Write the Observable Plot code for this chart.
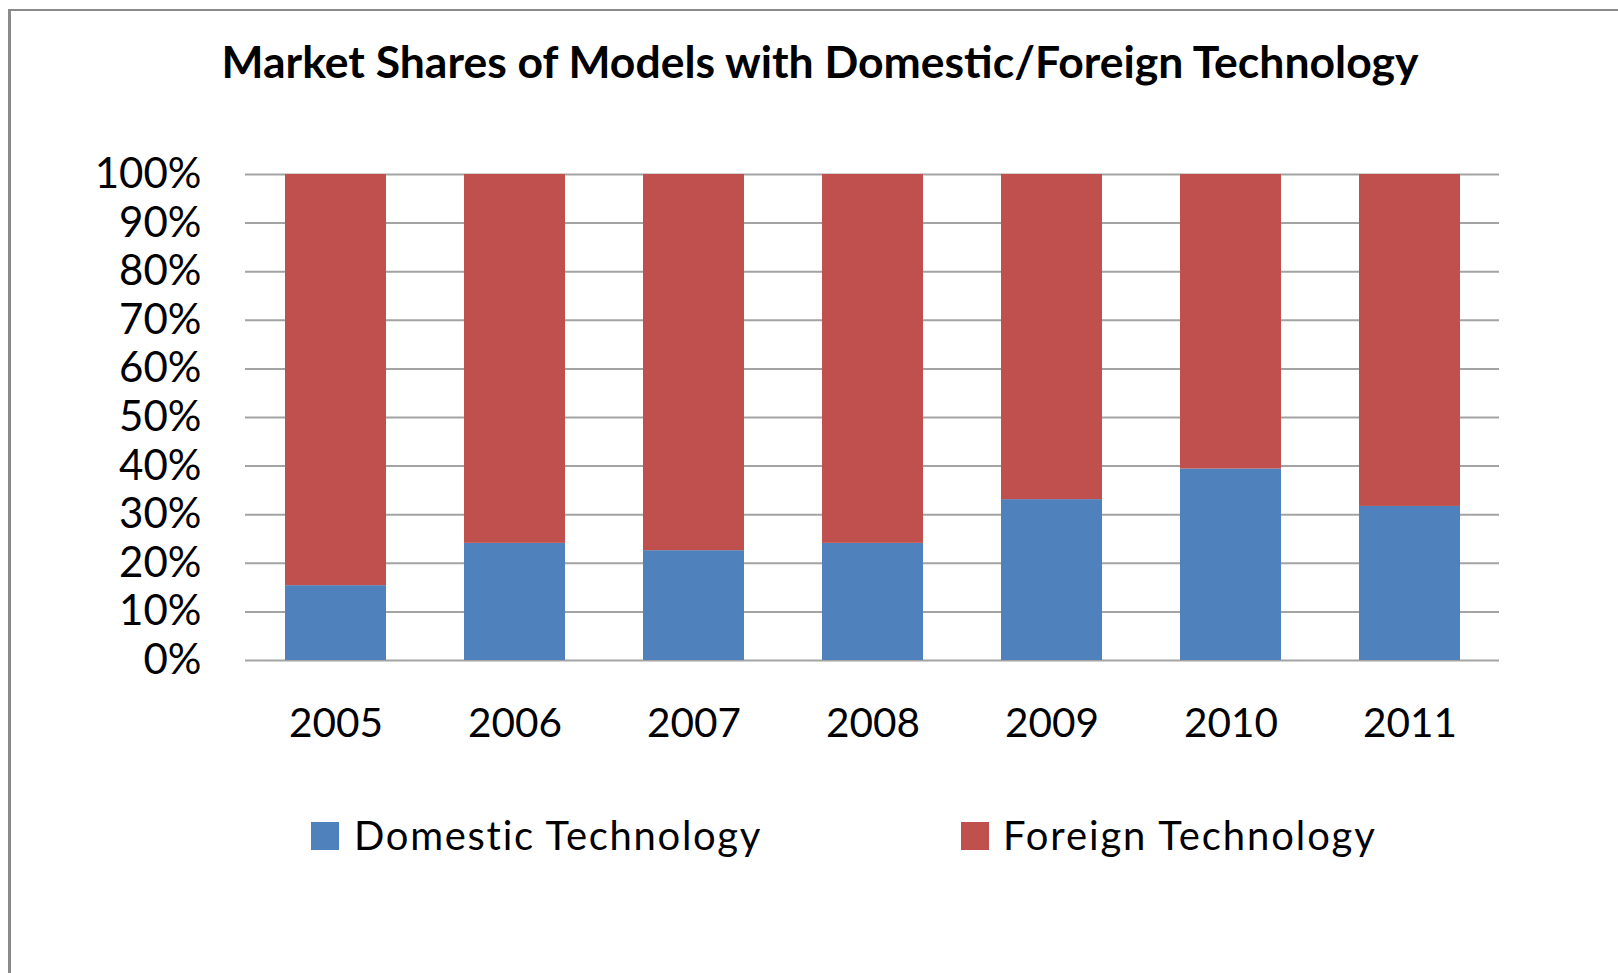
<!DOCTYPE html>
<html>
<head>
<meta charset="utf-8">
<script src="https://cdn.jsdelivr.net/npm/d3@7"></script>
<script src="https://cdn.jsdelivr.net/npm/@observablehq/plot@0.6"></script>
<style>
  html, body { margin: 0; padding: 0; background: #fff; }
  body { width: 1618px; height: 973px; overflow: hidden; position: relative; font-family: Lato, "Open Sans", sans-serif; color: #000; }
  #frame { position: absolute; z-index: 5; pointer-events: none; left: 8px; top: 9px; width: 1700px; height: 1100px; border-top: 2px solid #8a8a8a; border-left: 3px solid #8a8a8a; box-sizing: border-box; }
  #title { position: absolute; left: 22px; width: 1596px; top: 34px; text-align: center; font-weight: bold; font-size: 44.5px; line-height: 1.2; white-space: nowrap; }
  #chart { position: absolute; left: 0; top: 120px; }
  #chart svg { background: transparent !important; }
  #legend { position: absolute; left: 0; top: 0; width: 1618px; height: 973px; pointer-events: none; }
  .sw { position: absolute; width: 28px; height: 28px; }
  .lt { position: absolute; font-family: Lato, "Open Sans", sans-serif; font-size: 40px; line-height: 1.2; white-space: nowrap; }
</style>
</head>
<body>
<div id="frame"></div>
<div id="title">Market Shares of Models with Domestic/Foreign Technology</div>
<div id="chart"></div>
<div id="legend"></div>
<script>
const years = ["2005", "2006", "2007", "2008", "2009", "2010", "2011"];
const domestic = [15.4, 24.1, 22.6, 24.1, 33.1, 39.4, 31.7];
const foreign = [84.6, 75.9, 77.4, 75.9, 66.9, 60.6, 68.3];
const seriesNames = ["Domestic Technology", "Foreign Technology"];
const seriesColors = ["#4F81BD", "#C0504D"];
const yTicks = [0, 10, 20, 30, 40, 50, 60, 70, 80, 90, 100];

const rows = [];
years.forEach((y, i) => {
  rows.push({year: y, series: seriesNames[0], value: domestic[i]});
  rows.push({year: y, series: seriesNames[1], value: foreign[i]});
});

const chart = Plot.plot({
  width: 1618,
  height: 680,
  marginTop: 54,
  marginBottom: 140,
  marginLeft: 245,
  marginRight: 119,
  style: {fontFamily: "Lato, 'Open Sans', sans-serif", background: "transparent", color: "#000"},
  x: {domain: years, paddingInner: 0.436, paddingOuter: 0.218, label: null},
  y: {domain: [0, 100], label: null},
  color: {domain: seriesNames, range: seriesColors},
  marks: [
    Plot.ruleY(yTicks, {stroke: "#a3a3a3", strokeWidth: 2}),
    Plot.barY(rows, Plot.stackY({x: "year", y: "value", fill: "series", order: seriesNames})),
    Plot.axisY(yTicks, {tickSize: 0, tickPadding: 44, tickFormat: d => d + "%", fontSize: 42, fill: "#000"}),
    Plot.axisX({tickSize: 0, tickPadding: 48, fontSize: 40.5, fill: "#000"})
  ]
});
document.getElementById("chart").appendChild(chart);

const legend = document.getElementById("legend");
const swX = [311, 961];
const txX = [354, 1003];
const txW = [410, 375];
const ctx = document.createElement("canvas").getContext("2d");
ctx.font = "40px Lato, 'Open Sans', sans-serif";
seriesNames.forEach((name, i) => {
  const sw = document.createElement("div");
  sw.className = "sw";
  sw.style.left = swX[i] + "px";
  sw.style.top = "822px";
  sw.style.background = seriesColors[i];
  legend.appendChild(sw);
  const t = document.createElement("div");
  t.className = "lt";
  t.style.left = txX[i] + "px";
  t.style.top = (850 - 40 * 0.987) + "px";
  const w = ctx.measureText(name).width;
  t.style.letterSpacing = ((txW[i] - w) / name.length) + "px";
  t.textContent = name;
  legend.appendChild(t);
});
</script>
</body>
</html>
